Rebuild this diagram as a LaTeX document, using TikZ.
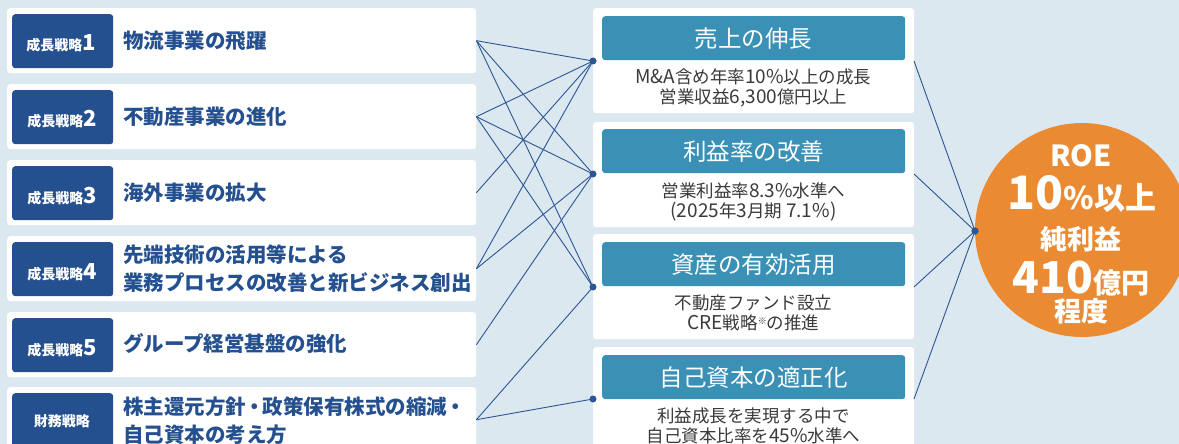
\documentclass[tikz,border=0pt]{standalone}
\usepackage{fontspec}
\setmainfont{Noto Sans CJK JP}
\definecolor{bg}{HTML}{DCE8EF}
\definecolor{navy}{HTML}{25508F}
\definecolor{tealh}{HTML}{3A90B5}
\definecolor{org}{HTML}{EA8B33}
\definecolor{txt}{HTML}{3A3A3A}
\definecolor{ln}{HTML}{2C5596}
\tikzset{
  wbox/.style={fill=white, rounded corners=3pt, anchor=north west, inner sep=0pt},
  lab/.style={fill=navy, rounded corners=3pt, anchor=north west, inner sep=0pt, minimum width=101pt, minimum height=54pt},
  labtxt/.style={text=white, font=\bfseries, anchor=base, inner sep=0pt},
  maintxt/.style={text=navy, font=\bfseries\fontsize{20.5}{28}\selectfont, anchor=west, align=left, inner sep=0pt},
  hdr/.style={fill=tealh, rounded corners=3pt, anchor=north west, inner sep=0pt, minimum width=303pt, minimum height=44pt, text=white, font=\fontsize{23.5}{23.5}\selectfont},
  sub/.style={text=txt, font=\fontsize{17.5}{20}\selectfont, align=center, inner sep=0pt},
  conn/.style={draw=ln, line width=0.9pt},
  dot/.style={circle, fill=ln, inner sep=0pt, minimum size=7pt},
  circtxt/.style={text=white, font=\bfseries, anchor=base, inner sep=0pt}
}
\newcommand{\lbl}[1]{{\fontsize{14}{14}\selectfont 成長戦略}{\fontsize{22}{22}\selectfont #1}}
\newcommand{\lt}[1]{{\fontsize{19}{20}\selectfont #1}}
\newcommand{\mdot}{\hspace{-0.1em}・\hspace{-0.1em}}
\begin{document}
\begin{tikzpicture}[x=1pt,y=-1pt]
\fill[bg] (0,0) rectangle (1179,444);
\useasboundingbox (0,0) rectangle (1179,444);

% left boxes
\node[wbox, minimum width=469pt, minimum height=65pt] (l1) at (7,8) {};
\node[wbox, minimum width=469pt, minimum height=65pt] (l2) at (7,84) {};
\node[wbox, minimum width=469pt, minimum height=65pt] (l3) at (7,160) {};
\node[wbox, minimum width=469pt, minimum height=65pt] (l4) at (7,236) {};
\node[wbox, minimum width=469pt, minimum height=65pt] (l5) at (7,312) {};
\node[wbox, minimum width=469pt, minimum height=65pt] (l6) at (7,387) {};

\node[lab] (b1) at (12,14) {};
\node[lab] (b2) at (12,90) {};
\node[lab] (b3) at (12,166) {};
\node[lab] (b4) at (12,242) {};
\node[lab] (b5) at (12,318) {};
\node[lab] (b6) at (12,393) {};

\node[labtxt] (t1) at (61,51) {\lbl{1}};
\node[labtxt] (t2) at (62,127) {\lbl{2}};
\node[labtxt] (t3) at (62,203) {\lbl{3}};
\node[labtxt] (t4) at (62,279) {\lbl{4}};
\node[labtxt] (t5) at (62,355) {\lbl{5}};
\node[labtxt, font=\bfseries\fontsize{14}{14}\selectfont] (t6) at (62,426) {財務戦略};

\node[maintxt] (m1t) at (123,41) {物流事業の飛躍};
\node[maintxt] (m2t) at (123,117) {不動産事業の進化};
\node[maintxt] (m3t) at (123,193) {海外事業の拡大};
\node[maintxt] (m4t) at (123,269) {先端技術の活用等による\\業務プロセスの改善と新ビジネス創出};
\node[maintxt] (m5t) at (123,344) {グループ経営基盤の強化};
\node[maintxt] (m6t) at (123,421) {株主還元方針\mdot 政策保有株式の縮減\mdot\\自己資本の考え方};

% middle boxes
\node[wbox, minimum width=321pt, minimum height=105pt] (r1) at (593,8) {};
\node[wbox, minimum width=321pt, minimum height=105pt] (r2) at (593,122) {};
\node[wbox, minimum width=321pt, minimum height=105pt] (r3) at (593,234) {};
\node[wbox, minimum width=321pt, minimum height=105pt] (r4) at (593,347) {};

\node[hdr] (h1) at (602,16) {売上の伸長};
\node[hdr] (h2) at (602,129) {利益率の改善};
\node[hdr] (h3) at (602,242) {資産の有効活用};
\node[hdr] (h4) at (602,355) {自己資本の適正化};

\node[sub] (s1) at (753.5,88) {\lt{M\&A}含め年率\lt{10\%}以上の成長\\営業収益\lt{6,300}億円以上};
\node[sub] (s2) at (753.5,202) {営業利益率\lt{8.3\%}水準へ\\\lt{(2025}年\lt{3}月期 \lt{7.1\%)}};
\node[sub] (s3) at (753.5,313) {不動産ファンド設立\\\lt{CRE}戦略{\fontsize{9}{9}\selectfont\raisebox{5pt}{※}}の推進};
\node[sub] (s4) at (753.5,426) {利益成長を実現する中で\\自己資本比率を\lt{45\%}水準へ};

% dots
\node[dot] (d1) at (593,61) {};
\node[dot] (d2) at (593,174) {};
\node[dot] (d3) at (593,287) {};
\node[dot] (d4) at (593,399) {};

\coordinate (e1) at (914,61);
\coordinate (e2) at (914,174);
\coordinate (e3) at (914,287);
\coordinate (e4) at (914,399);

% ROE circle
\node[circle, fill=org, minimum size=214pt, inner sep=0pt] (roe) at (1082,230) {};
\node[dot] (rd) at (975,231) {};

% connectors left -> middle
\draw[conn] (l1.east) -- (d1.center);
\draw[conn] (l1.east) -- (d2.center);
\draw[conn] (l1.east) -- (d3.center);
\draw[conn] (l2.east) -- (d1.center);
\draw[conn] (l2.east) -- (d2.center);
\draw[conn] (l2.east) -- (d3.center);
\draw[conn] (l3.east) -- (d1.center);
\draw[conn] (l4.east) -- (d1.center);
\draw[conn] (l4.east) -- (d2.center);
\draw[conn] (l5.east) -- (d2.center);
\draw[conn] (l6.east) -- (d3.center);
\draw[conn] (l6.east) -- (d4.center);

% middle -> ROE
\draw[conn] (e1) -- (rd.center);
\draw[conn] (e2) -- (rd.center);
\draw[conn] (e3) -- (rd.center);
\draw[conn] (e4) -- (rd.center);
\node[dot] at (rd) {};

% circle text
\node[circtxt, font=\bfseries\fontsize{29}{29}\selectfont] (c1) at (1081,166) {ROE};
\node[circtxt] (c2) at (1082,209) {{\fontsize{46}{46}\selectfont 10}{\fontsize{31}{31}\selectfont \%以上}};
\node[circtxt, font=\bfseries\fontsize{27}{27}\selectfont] (c3) at (1081,249) {純利益};
\node[circtxt] (c4) at (1081,293) {{\fontsize{44}{44}\selectfont 410}{\fontsize{28}{28}\selectfont 億円}};
\node[circtxt, font=\bfseries\fontsize{27}{27}\selectfont] (c5) at (1081,321) {程度};
\end{tikzpicture}
\end{document}
